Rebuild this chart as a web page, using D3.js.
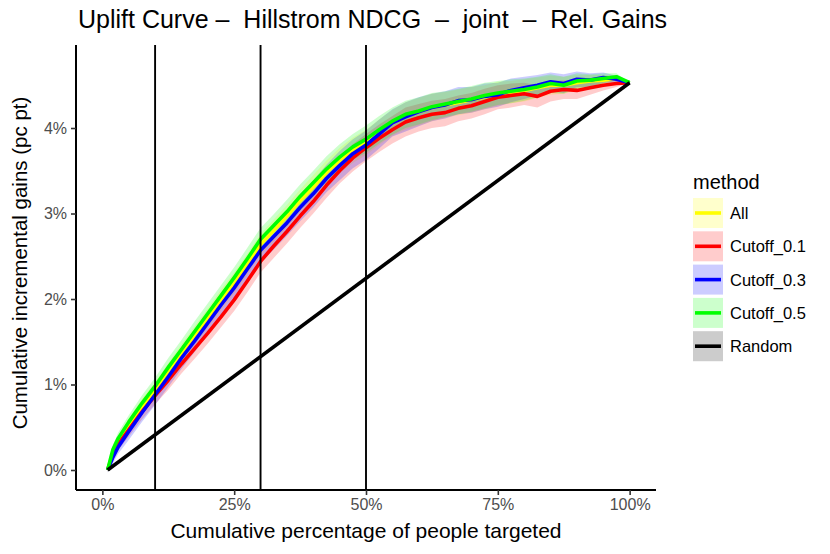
<!DOCTYPE html>
<html>
<head>
<meta charset="utf-8">
<script src="https://cdn.jsdelivr.net/npm/d3@7"></script>
<style>
  body { margin: 0; background: #fff; }
  svg text { font-family: "Liberation Sans", Arial, Helvetica, sans-serif; }
</style>
</head>
<body>
<svg id="chart" width="830" height="554"></svg>
<script>
// share of people targeted (fraction)
const targeted = [0.01, 0.02, 0.03, 0.05, 0.075, 0.10, 0.125, 0.15, 0.175, 0.20,
  0.225, 0.25, 0.275, 0.30, 0.325, 0.35, 0.375, 0.40, 0.425, 0.45,
  0.475, 0.50, 0.525, 0.55, 0.575, 0.60, 0.625, 0.65, 0.675, 0.70,
  0.725, 0.75, 0.775, 0.80, 0.825, 0.85, 0.875, 0.90, 0.925, 0.95,
  0.975, 1.00];

// cumulative incremental gains in pc pt, one array per method
const gainsAll = [0.00, 0.20, 0.33, 0.52, 0.74, 0.93, 1.15, 1.36, 1.57, 1.78,
  1.99, 2.19, 2.41, 2.64, 2.80, 2.97, 3.15, 3.31, 3.48, 3.62,
  3.74, 3.83, 3.95, 4.06, 4.14, 4.19, 4.24, 4.27, 4.30, 4.33,
  4.36, 4.40, 4.42, 4.44, 4.47, 4.50, 4.50, 4.53, 4.55, 4.56,
  4.58, 4.53];
const gainsCut01 = [0.00, 0.18, 0.30, 0.47, 0.68, 0.87, 1.05, 1.24, 1.42, 1.60,
  1.79, 1.99, 2.21, 2.44, 2.62, 2.79, 2.97, 3.14, 3.33, 3.50,
  3.65, 3.77, 3.88, 3.98, 4.07, 4.12, 4.16, 4.18, 4.23, 4.26,
  4.31, 4.36, 4.38, 4.40, 4.37, 4.43, 4.45, 4.44, 4.47, 4.50,
  4.52, 4.53];
const gainsCut03 = [0.00, 0.15, 0.27, 0.45, 0.67, 0.88, 1.09, 1.31, 1.51, 1.72,
  1.93, 2.13, 2.35, 2.57, 2.73, 2.89, 3.07, 3.23, 3.41, 3.56,
  3.70, 3.80, 3.93, 4.06, 4.13, 4.19, 4.24, 4.27, 4.32, 4.33,
  4.37, 4.39, 4.44, 4.47, 4.50, 4.54, 4.52, 4.57, 4.56, 4.59,
  4.57, 4.53];
const gainsCut05 = [0.00, 0.24, 0.37, 0.56, 0.78, 0.98, 1.20, 1.41, 1.62, 1.83,
  2.04, 2.25, 2.47, 2.70, 2.86, 3.02, 3.20, 3.36, 3.52, 3.66,
  3.78, 3.87, 3.98, 4.08, 4.16, 4.20, 4.25, 4.28, 4.31, 4.34,
  4.38, 4.41, 4.43, 4.45, 4.48, 4.52, 4.50, 4.55, 4.56, 4.58,
  4.60, 4.53];

// half width of the confidence band around each curve (pc pt)
const bandAll = [0.02, 0.05, 0.06, 0.08, 0.09, 0.10, 0.10, 0.11, 0.11, 0.11,
  0.12, 0.12, 0.12, 0.12, 0.13, 0.13, 0.13, 0.14, 0.14, 0.15,
  0.15, 0.15, 0.15, 0.15, 0.16, 0.16, 0.16, 0.15, 0.15, 0.15,
  0.14, 0.14, 0.13, 0.13, 0.12, 0.11, 0.10, 0.09, 0.07, 0.06,
  0.04, 0.00];
const bandCut01 = [0.02, 0.06, 0.07, 0.08, 0.09, 0.10, 0.11, 0.11, 0.12, 0.12,
  0.12, 0.13, 0.13, 0.13, 0.14, 0.14, 0.14, 0.14, 0.15, 0.15,
  0.16, 0.16, 0.16, 0.16, 0.17, 0.16, 0.16, 0.16, 0.15, 0.15,
  0.15, 0.14, 0.14, 0.13, 0.13, 0.12, 0.11, 0.10, 0.08, 0.06,
  0.04, 0.00];
const bandCut03 = [0.03, 0.07, 0.08, 0.10, 0.11, 0.12, 0.12, 0.13, 0.13, 0.13,
  0.14, 0.14, 0.14, 0.15, 0.15, 0.15, 0.16, 0.16, 0.16, 0.17,
  0.17, 0.17, 0.17, 0.16, 0.17, 0.17, 0.16, 0.16, 0.16, 0.15,
  0.15, 0.14, 0.14, 0.13, 0.12, 0.11, 0.11, 0.09, 0.08, 0.06,
  0.04, 0.00];
const bandCut05 = [0.02, 0.05, 0.07, 0.08, 0.09, 0.10, 0.11, 0.11, 0.12, 0.12,
  0.12, 0.12, 0.13, 0.13, 0.13, 0.14, 0.14, 0.14, 0.15, 0.15,
  0.15, 0.16, 0.16, 0.16, 0.16, 0.16, 0.16, 0.15, 0.15, 0.15,
  0.15, 0.14, 0.14, 0.13, 0.12, 0.11, 0.10, 0.09, 0.07, 0.06,
  0.04, 0.00];

// random targeting baseline (straight line)
const randomX = [0.01, 1.00];
const randomY = [0.00, 4.53];

const methods = ["All", "Cutoff_0.1", "Cutoff_0.3", "Cutoff_0.5", "Random"];
const methodColors = ["#ffff00", "#ff0000", "#0000ff", "#00ff00", "#000000"];
const cutoffLines = [0.10, 0.30, 0.50];
const xTicks = [0, 0.25, 0.5, 0.75, 1];
const yTicks = [0, 1, 2, 3, 4];

const titleText = "Uplift Curve \u2013  Hillstrom NDCG  \u2013  joint  \u2013  Rel. Gains";
const xTitle = "Cumulative percentage of people targeted";
const yTitle = "Cumulative incremental gains (pc pt)";

const svg = d3.select("#chart");
const panel = { left: 76, right: 656, top: 45, bottom: 490 };

const x = d3.scaleLinear().domain([-0.05, 1.05]).range([panel.left, panel.right]);
const y = d3.scaleLinear().domain([-0.234, 4.971]).range([panel.bottom, panel.top]);

// build series rows
const curves = [
  { name: "All", gains: gainsAll, band: bandAll },
  { name: "Cutoff_0.1", gains: gainsCut01, band: bandCut01 },
  { name: "Cutoff_0.3", gains: gainsCut03, band: bandCut03 },
  { name: "Cutoff_0.5", gains: gainsCut05, band: bandCut05 }
].map(c => ({
  name: c.name,
  color: methodColors[methods.indexOf(c.name)],
  points: targeted.map((t, i) => ({ x: t, y: c.gains[i], lo: c.gains[i] - c.band[i], hi: c.gains[i] + c.band[i] }))
}));
const randomPoints = randomX.map((t, i) => ({ x: t, y: randomY[i] }));

const g = svg.append("g");

// ribbons first, all of them under the lines
const area = d3.area().x(d => x(d.x)).y0(d => y(d.lo)).y1(d => y(d.hi));
g.selectAll("path.band")
  .data(curves)
  .join("path")
  .attr("class", "band")
  .attr("d", d => area(d.points))
  .attr("fill", d => d.color)
  .attr("fill-opacity", 0.2)
  .attr("stroke", "none");

const line = d3.line().x(d => x(d.x)).y(d => y(d.y));
g.selectAll("path.curve")
  .data(curves)
  .join("path")
  .attr("class", "curve")
  .attr("d", d => line(d.points))
  .attr("fill", "none")
  .attr("stroke", d => d.color)
  .attr("stroke-width", 3.6)
  .attr("stroke-linejoin", "round");

g.append("path")
  .attr("d", line(randomPoints))
  .attr("fill", "none")
  .attr("stroke", "#000")
  .attr("stroke-width", 3.6);

// cutoff markers
g.selectAll("line.cutoff")
  .data(cutoffLines)
  .join("line")
  .attr("x1", d => x(d)).attr("x2", d => x(d))
  .attr("y1", panel.top).attr("y2", panel.bottom)
  .attr("stroke", "#000")
  .attr("stroke-width", 1.9);

// axes
const xAxis = d3.axisBottom(x).tickValues(xTicks).tickFormat(d3.format(".0%")).tickSize(5).tickSizeOuter(0).tickPadding(4);
const yAxis = d3.axisLeft(y).tickValues(yTicks).tickFormat(d => d + "%").tickSize(5).tickSizeOuter(0).tickPadding(4);

const gx = svg.append("g").attr("transform", `translate(0,${panel.bottom})`).call(xAxis);
const gy = svg.append("g").attr("transform", `translate(${panel.left},0)`).call(yAxis);

[gx, gy].forEach(a => {
  a.select(".domain").attr("stroke", "#000").attr("stroke-width", 2);
  a.selectAll(".tick line").attr("stroke", "#333").attr("stroke-width", 1.6);
  a.selectAll(".tick text").attr("fill", "#4d4d4d").style("font-size", "16px")
    .style("font-family", "'Liberation Sans', Arial, sans-serif");
});
gx.select(".domain").attr("d", `M${panel.left},0H${panel.right}`);
gy.select(".domain").attr("d", `M0,${panel.top}V${panel.bottom}`);

// titles
svg.append("text")
  .attr("x", 78).attr("y", 28)
  .style("font-size", "25px")
  .attr("fill", "#000")
  .attr("xml:space", "preserve")
  .style("white-space", "pre")
  .text(titleText);

svg.append("text")
  .attr("x", (panel.left + panel.right) / 2).attr("y", 538)
  .attr("text-anchor", "middle")
  .style("font-size", "21px")
  .text(xTitle);

svg.append("text")
  .attr("transform", `translate(27,263) rotate(-90)`)
  .attr("text-anchor", "middle")
  .style("font-size", "20.5px")
  .text(yTitle);

// legend
const legend = svg.append("g").attr("transform", "translate(693,0)");
legend.append("text")
  .attr("x", 0).attr("y", 189)
  .style("font-size", "20px")
  .text("method");

const keys = legend.selectAll("g.key")
  .data(methods)
  .join("g")
  .attr("class", "key")
  .attr("transform", (d, i) => `translate(0,${198 + i * 33.3})`);

keys.append("rect")
  .attr("width", 30).attr("height", 30)
  .attr("fill", (d, i) => d === "Random" ? "#999" : methodColors[i])
  .attr("fill-opacity", (d) => d === "Random" ? 0.5 : 0.2);

keys.append("line")
  .attr("x1", 2).attr("x2", 28)
  .attr("y1", 15).attr("y2", 15)
  .attr("stroke", (d, i) => methodColors[i])
  .attr("stroke-width", 3.6);

keys.append("text")
  .attr("x", 37).attr("y", 21)
  .style("font-size", "16.5px")
  .text(d => d);
</script>
</body>
</html>
